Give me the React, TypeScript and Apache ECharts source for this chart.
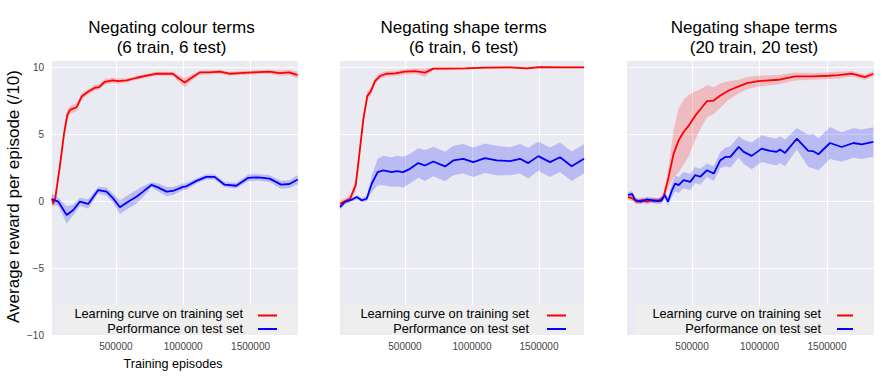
import React, { useEffect, useRef } from "react";
import * as echarts from "echarts";

const FONT = '"Liberation Sans", Arial, Helvetica, sans-serif';

// ---------- data ----------
const seriesNames = ["Learning curve on training set", "Performance on test set"];
const panelTitles = [
  ["Negating colour terms", "(6 train, 6 test)"],
  ["Negating shape terms", "(6 train, 6 test)"],
  ["Negating shape terms", "(20 train, 20 test)"],
];
const yTickValues = [-10, -5, 0, 5, 10];
const xTickStep = 500000;

// Panel 1: colour terms (6 train, 6 test)
const trainX1 = [26000, 33000, 50000, 83000, 115000, 139000, 159000, 209000, 246000, 293000, 344000, 376000, 418000, 478000, 515000, 581000, 655000, 729000, 804000, 922000, 974000, 1011000, 1048000, 1122000, 1196000, 1270000, 1344000, 1419000, 1515000, 1641000, 1715000, 1789000, 1848000];
const trainY1 = [0.2, -0.2, 0.2, 2.5, 5.0, 6.4, 6.8, 7.0, 7.8, 8.15, 8.45, 8.5, 8.9, 9.0, 8.95, 9.0, 9.2, 9.35, 9.5, 9.5, 9.1, 8.85, 9.1, 9.6, 9.6, 9.65, 9.5, 9.55, 9.6, 9.65, 9.55, 9.6, 9.4];
const trainSpread1 = [0.3, 0.3, 0.3, 0.3, 0.3, 0.35, 0.3, 0.3, 0.25, 0.2, 0.2, 0.2, 0.2, 0.2, 0.2, 0.15, 0.15, 0.15, 0.15, 0.15, 0.25, 0.35, 0.25, 0.15, 0.15, 0.15, 0.15, 0.15, 0.15, 0.15, 0.2, 0.2, 0.25];
const testX1 = [26000, 73000, 135000, 184000, 233000, 295000, 369000, 431000, 480000, 530000, 591000, 653000, 702000, 764000, 813000, 876000, 924000, 998000, 1024000, 1098000, 1172000, 1233000, 1307000, 1394000, 1480000, 1554000, 1641000, 1727000, 1789000, 1850000];
const testY1 = [0.13, -0.05, -1.05, -0.67, -0.05, -0.22, 0.82, 0.7, 0.2, -0.47, -0.05, 0.32, 0.7, 1.2, 1.02, 0.7, 0.75, 1.05, 1.1, 1.5, 1.8, 1.8, 1.22, 1.14, 1.72, 1.77, 1.67, 1.22, 1.27, 1.6];
const testSpread1 = [0.45, 0.3, 0.65, 0.4, 0.3, 0.35, 0.25, 0.3, 0.35, 0.5, 0.5, 0.5, 0.4, 0.2, 0.3, 0.35, 0.3, 0.25, 0.25, 0.2, 0.2, 0.2, 0.2, 0.2, 0.25, 0.25, 0.25, 0.3, 0.3, 0.35];

// Panel 2: shape terms (6 train, 6 test)
const trainX2 = [15000, 52000, 90000, 132000, 157000, 189000, 219000, 246000, 276000, 313000, 363000, 425000, 500000, 575000, 649000, 711000, 799000, 948000, 1097000, 1284000, 1408000, 1508000, 1657000, 1836000];
const trainY2 = [-0.2, 0.0, 0.17, 1.17, 3.27, 6.1, 7.85, 8.2, 8.95, 9.33, 9.5, 9.53, 9.65, 9.7, 9.58, 9.88, 9.88, 9.9, 9.95, 9.97, 9.9, 10.0, 9.98, 9.98];
const trainSpread2 = [0.2, 0.2, 0.25, 0.4, 0.4, 0.4, 0.35, 0.3, 0.25, 0.2, 0.2, 0.2, 0.2, 0.2, 0.3, 0.1, 0.1, 0.08, 0.08, 0.08, 0.08, 0.08, 0.08, 0.08];
const testX2 = [15000, 52000, 102000, 140000, 177000, 214000, 252000, 296000, 338000, 401000, 438000, 487000, 537000, 599000, 649000, 711000, 799000, 861000, 935000, 1010000, 1097000, 1184000, 1284000, 1358000, 1420000, 1495000, 1582000, 1657000, 1744000, 1836000];
const testY2 = [-0.45, -0.07, 0.1, 0.3, 0.05, 0.17, 1.29, 2.16, 2.28, 2.16, 2.23, 2.16, 2.4, 2.83, 2.65, 2.95, 2.58, 3.03, 3.15, 2.9, 3.2, 3.03, 2.97, 3.15, 2.83, 3.35, 2.9, 3.27, 2.6, 3.15];
const testSpread2 = [0.2, 0.15, 0.15, 0.15, 0.15, 0.2, 0.6, 1.0, 1.1, 1.1, 1.15, 1.15, 1.1, 1.1, 1.15, 1.1, 1.1, 1.1, 1.1, 1.1, 1.1, 1.1, 1.05, 1.1, 1.15, 1.1, 1.1, 1.1, 1.1, 1.1];

// Panel 3: shape terms (20 train, 20 test)
const trainX3 = [26000, 56000, 93000, 130000, 167000, 204000, 253000, 290000, 327000, 364000, 401000, 438000, 476000, 524000, 574000, 611000, 661000, 710000, 772000, 846000, 907000, 991000, 1139000, 1263000, 1387000, 1510000, 1584000, 1683000, 1781000, 1843000];
const trainY3 = [0.3, 0.2, -0.05, 0.07, -0.05, 0.07, 0.0, 0.32, 1.8, 3.54, 4.53, 5.15, 5.63, 6.37, 7.0, 7.45, 7.5, 7.87, 8.25, 8.55, 8.8, 8.95, 9.05, 9.3, 9.3, 9.35, 9.4, 9.5, 9.25, 9.5];
const trainSpread3 = [0.2, 0.2, 0.2, 0.2, 0.2, 0.2, 0.2, 0.3, 0.8, 1.8, 2.4, 2.4, 2.3, 1.8, 1.4, 1.2, 1.0, 0.9, 0.7, 0.5, 0.45, 0.4, 0.35, 0.3, 0.25, 0.25, 0.25, 0.2, 0.2, 0.2];
const testX3 = [26000, 56000, 80000, 117000, 167000, 216000, 273000, 298000, 322000, 352000, 376000, 401000, 438000, 487000, 524000, 561000, 611000, 661000, 710000, 747000, 784000, 846000, 883000, 942000, 1016000, 1078000, 1127000, 1152000, 1189000, 1276000, 1361000, 1398000, 1436000, 1522000, 1609000, 1695000, 1757000, 1843000];
const testY3 = [0.45, 0.52, 0.07, -0.05, 0.12, 0.02, 0.02, 0.45, -0.05, 0.82, 1.31, 1.19, 1.56, 1.43, 1.93, 1.81, 2.3, 2.05, 3.05, 3.29, 3.29, 4.04, 3.67, 3.37, 3.91, 3.74, 3.67, 3.84, 3.59, 4.65, 3.74, 3.72, 3.49, 4.33, 4.03, 4.33, 4.23, 4.41];
const testSpread3 = [0.2, 0.2, 0.2, 0.2, 0.2, 0.2, 0.2, 0.2, 0.3, 0.5, 0.6, 0.6, 0.6, 0.6, 0.6, 0.6, 0.5, 0.55, 0.6, 0.7, 0.8, 0.8, 0.9, 1.0, 1.0, 1.0, 1.0, 1.0, 1.0, 0.8, 1.2, 1.3, 1.2, 1.2, 1.1, 1.1, 1.1, 1.1];

const panels = [
  { train: [trainX1, trainY1, trainSpread1], test: [testX1, testY1, testSpread1], xRange: [26000, 1852000] },
  { train: [trainX2, trainY2, trainSpread2], test: [testX2, testY2, testSpread2], xRange: [15000, 1836000] },
  { train: [trainX3, trainY3, trainSpread3], test: [testX3, testY3, testSpread3], xRange: [18500, 1848000] },
];

// ---------- layout / style ----------
const RED = "#ff0000";
const BLUE = "#0000ff";
const grids = [
  { left: 52, top: 61, width: 246, height: 274 },
  { left: 340, top: 61, width: 244, height: 274 },
  { left: 627, top: 61, width: 247, height: 274 },
];
const legendBoxes = [
  { l: 57, r: 298, textEnd: 243, m0: 258, m1: 277 },
  { l: 343, r: 584, textEnd: 529, m0: 547, m1: 566 },
  { l: 635, r: 874, textEnd: 821, m0: 837, m1: 853 },
];
const titleCenters = [171.5, 463.7, 754];

function bandSeries(idx: number, xs: number[], ys: number[], sp: number[], fill: string) {
  return {
    type: "custom",
    xAxisIndex: idx,
    yAxisIndex: idx,
    silent: true,
    clip: true,
    z: 2,
    data: [[xs[0], ys[0]]],
    renderItem: (_params: any, api: any) => {
      const pts: number[][] = [];
      for (let i = 0; i < xs.length; i++) pts.push(api.coord([xs[i], ys[i] + sp[i]]));
      for (let i = xs.length - 1; i >= 0; i--) pts.push(api.coord([xs[i], ys[i] - sp[i]]));
      return { type: "polygon", shape: { points: pts }, style: { fill } };
    },
  };
}

function lineSeries(idx: number, name: string, xs: number[], ys: number[], color: string) {
  return {
    type: "line",
    name,
    xAxisIndex: idx,
    yAxisIndex: idx,
    silent: true,
    z: 3,
    showSymbol: false,
    symbol: "none",
    data: xs.map((x, i) => [x, ys[i]]),
    lineStyle: { color, width: 1.8 },
    itemStyle: { color },
  };
}

function textEl(text: string, x: number, y: number, size: number, align: string, extra: any = {}) {
  return {
    type: "text",
    x,
    y,
    silent: true,
    z: 100,
    ...extra,
    style: {
      text,
      fontSize: size,
      fontFamily: FONT,
      fill: "#000",
      align,
      verticalAlign: "middle",
      textAlign: align,
      textVerticalAlign: "middle",
    },
  };
}

export default function App() {
  const ref = useRef<HTMLDivElement>(null);
  useEffect(() => {
    document.body.style.margin = "0";
    if (!ref.current) return;
    const chart = echarts.init(ref.current, undefined, { renderer: "svg" });

    const series: any[] = [];
    panels.forEach((p, i) => {
      series.push(bandSeries(i, p.train[0], p.train[1], p.train[2], "rgba(255,0,0,0.2)"));
      series.push(bandSeries(i, p.test[0], p.test[1], p.test[2], "rgba(0,0,255,0.2)"));
    });
    panels.forEach((p, i) => {
      series.push(lineSeries(i, seriesNames[0], p.train[0], p.train[1], RED));
      series.push(lineSeries(i, seriesNames[1], p.test[0], p.test[1], BLUE));
    });

    const graphic: any[] = [];
    panelTitles.forEach((t, i) => {
      graphic.push(textEl(t[0], titleCenters[i], 27, 17, "center"));
      graphic.push(textEl(t[1], titleCenters[i], 47, 17, "center"));
    });
    graphic.push(textEl("Training episodes", 173, 364, 12.6, "center"));
    graphic.push(textEl("Average reward per episode (/10)", 13.5, 196.5, 17, "center", { rotation: Math.PI / 2 }));
    legendBoxes.forEach((b) => {
      graphic.push({ type: "rect", silent: true, z: 90, shape: { x: b.l, y: 305, width: b.r - b.l, height: 30 }, style: { fill: "#eeeeee" } });
      graphic.push(textEl(seriesNames[0], b.textEnd, 313.5, 12.8, "right"));
      graphic.push(textEl(seriesNames[1], b.textEnd, 328.5, 12.8, "right"));
      graphic.push({ type: "line", silent: true, z: 100, shape: { x1: b.m0, y1: 315.5, x2: b.m1, y2: 315.5 }, style: { stroke: RED, lineWidth: 2 } });
      graphic.push({ type: "line", silent: true, z: 100, shape: { x1: b.m0, y1: 329, x2: b.m1, y2: 329 }, style: { stroke: BLUE, lineWidth: 2 } });
    });

    chart.setOption({
      animation: false,
      backgroundColor: "#ffffff",
      grid: grids.map((g) => ({ ...g, show: true, backgroundColor: "#eaeaf2", borderWidth: 0, containLabel: false })),
      xAxis: panels.map((p, i) => ({
        gridIndex: i,
        type: "value",
        min: p.xRange[0],
        max: p.xRange[1],
        minInterval: xTickStep,
        maxInterval: xTickStep,
        axisLine: { show: false },
        axisTick: { show: false },
        axisLabel: {
          color: "#444",
          fontSize: 10,
          fontFamily: FONT,
          margin: 6,
          formatter: (v: number) => (v % xTickStep === 0 ? String(v) : ""),
        },
        splitLine: { show: true, showMinLine: false, showMaxLine: false, lineStyle: { color: "#ffffff", width: 1 } },
      })),
      yAxis: panels.map((_p, i) => ({
        gridIndex: i,
        type: "value",
        min: -10,
        max: 10.45,
        interval: 5,
        axisLine: { show: false },
        axisTick: { show: false },
        axisLabel: {
          show: i === 0,
          color: "#444",
          fontSize: 10,
          fontFamily: FONT,
          margin: 8,
          formatter: (v: number) =>
            yTickValues.indexOf(v) >= 0 ? (v < 0 ? "\u2212" + String(-v) : String(v)) : "",
        },
        splitLine: { show: true, showMinLine: false, showMaxLine: false, lineStyle: { color: "#ffffff", width: 1 } },
      })),
      series,
      graphic,
    });
    return () => chart.dispose();
  }, []);
  return <div ref={ref} style={{ width: 894, height: 384 }} />;
}
